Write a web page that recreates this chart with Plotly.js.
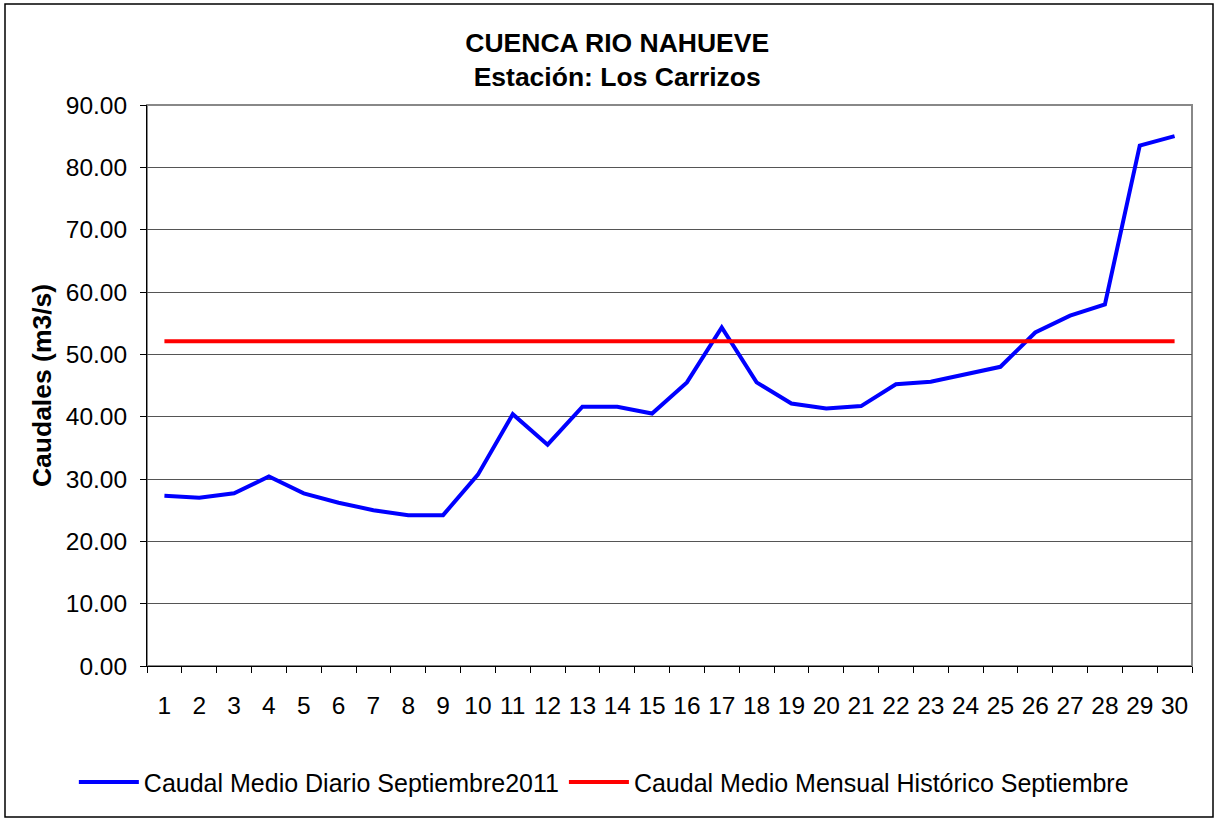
<!DOCTYPE html>
<html>
<head>
<meta charset="utf-8">
<script src="https://cdn.plot.ly/plotly-3.0.1.min.js"></script>
<style>
html,body{margin:0;padding:0;background:#fff;}
#chart{width:1215px;height:820px;}
</style>
</head>
<body>
<div id="chart"></div>
<script>
// Days of September 2011
const days = ['1','2','3','4','5','6','7','8','9','10','11','12','13','14','15','16','17','18','19','20','21','22','23','24','25','26','27','28','29','30'];
// Caudal Medio Diario Septiembre 2011 (m3/s)
const caudalDiario = [27.3, 27.0, 27.7, 30.4, 27.7, 26.2, 25.0, 24.2, 24.2, 30.7,
                      40.4, 35.5, 41.6, 41.6, 40.5, 45.5, 54.3, 45.5, 42.1, 41.3,
                      41.7, 45.2, 45.6, 46.8, 48.0, 53.5, 56.2, 58.0, 83.5, 85.0];
// Caudal Medio Mensual Histórico Septiembre (m3/s)
const caudalHistorico = [52.1, 52.1, 52.1, 52.1, 52.1, 52.1, 52.1, 52.1, 52.1, 52.1,
                         52.1, 52.1, 52.1, 52.1, 52.1, 52.1, 52.1, 52.1, 52.1, 52.1,
                         52.1, 52.1, 52.1, 52.1, 52.1, 52.1, 52.1, 52.1, 52.1, 52.1];
const seriesNames = ['Caudal Medio Diario Septiembre2011', 'Caudal Medio Mensual Histórico Septiembre'];
const yTicks = [0, 10, 20, 30, 40, 50, 60, 70, 80, 90];

const FONT = 'Arial, "Liberation Sans", sans-serif';

const traces = [
  {x: days, y: caudalDiario, type: 'scatter', mode: 'lines', name: seriesNames[0],
   line: {color: '#0000ff', width: 4}},
  {x: days, y: caudalHistorico, type: 'scatter', mode: 'lines', name: seriesNames[1],
   line: {color: '#ff0000', width: 4}}
];

const layout = {
  width: 1215, height: 820,
  margin: {l: 147, r: 23, t: 105, b: 154},
  paper_bgcolor: '#ffffff', plot_bgcolor: '#ffffff',
  font: {family: FONT, color: '#000', size: 24},
  title: {
    text: '<b>CUENCA RIO NAHUEVE</b><br><b>Estación: Los Carrizos</b>',
    font: {family: FONT, size: 26.5, color: '#000'},
    xref: 'container', x: 0.508, xanchor: 'center',
    yref: 'container', y: 0.937, yanchor: 'middle'
  },
  xaxis: {
    type: 'category', tickson: 'boundaries', range: [-0.5, 29.5],
    showgrid: false, showline: true, linecolor: '#000', linewidth: 1,
    ticks: 'outside', ticklen: 6, tickcolor: '#000', tickwidth: 1,
    tickangle: 0, ticklabelstandoff: 18,
    tickfont: {family: FONT, size: 24.5, color: '#000'},
    fixedrange: true
  },
  yaxis: {
    range: [0, 90], tickvals: yTicks, tickformat: '.2f',
    showgrid: true, gridcolor: '#555', gridwidth: 1, zeroline: false,
    showline: true, linecolor: '#000', linewidth: 1,
    ticks: 'outside', ticklen: 6, tickcolor: '#000',
    ticklabelstandoff: 8,
    tickfont: {family: FONT, size: 24.5, color: '#000'},
    title: {text: '<b>Caudales (m3/s)</b>', font: {family: FONT, size: 26.5, color: '#000'}, standoff: 6},
    fixedrange: true
  },
  showlegend: true,
  legend: {
    orientation: 'h', x: -0.07, xanchor: 'left', y: -0.207, yanchor: 'middle',
    font: {family: FONT, size: 25, color: '#000'},
    bgcolor: 'rgba(0,0,0,0)', itemwidth: 60, traceorder: 'normal'
  },
  shapes: [
    {type: 'rect', xref: 'paper', yref: 'paper', x0: 0, x1: 1, y0: 0, y1: 1,
     line: {color: '#888', width: 2}, layer: 'below'},
    {type: 'rect', xref: 'paper', yref: 'paper',
     x0: (5 - 147) / 1045, x1: (1213 - 147) / 1045,
     y0: (666 - 817) / 561, y1: (666 - 4) / 561,
     line: {color: '#000', width: 1.5}, layer: 'below'}
  ]
};

Plotly.newPlot('chart', traces, layout, {displayModeBar: false, staticPlot: true});
</script>
</body>
</html>
